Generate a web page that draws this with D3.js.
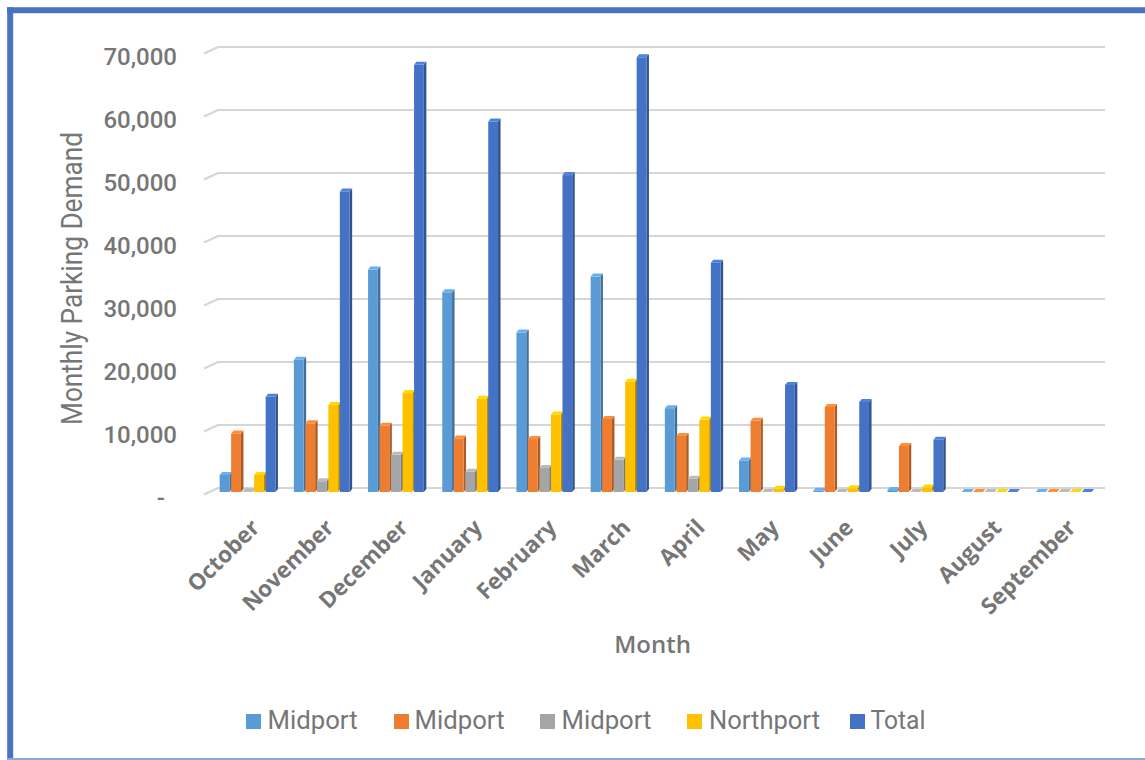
<!DOCTYPE html>
<html>
<head>
<meta charset="utf-8">
<script src="https://cdn.jsdelivr.net/npm/d3@7"></script>
<style>
  html, body { margin: 0; padding: 0; background: #ffffff; }
  svg { display: block; }
</style>
</head>
<body>
<svg id="chart" width="1145" height="760"></svg>
<script>
// Monthly parking demand by lot
const months = ["October", "November", "December", "January", "February", "March",
                "April", "May", "June", "July", "August", "September"];
const seriesNames = ["Midport", "Midport", "Midport", "Northport", "Total"];
const seriesColors = ["#5B9BD5", "#ED7D31", "#A5A5A5", "#FFC000", "#4472C4"];

const midportA  = [2700, 21000, 35300, 31700, 25300, 34200, 13300, 5000, 200, 300, 0, 0];
const midportB  = [9300, 10900, 10500, 8500, 8400, 11600, 8900, 11300, 13500, 7300, 0, 0];
const midportC  = [100, 1700, 5900, 3200, 3800, 5100, 2100, 0, 0, 0, 0, 0];
const northport = [2700, 13800, 15700, 14800, 12300, 17500, 11500, 500, 600, 700, 0, 0];
const total     = [15100, 47700, 67800, 58800, 50300, 69000, 36400, 17000, 14300, 8300, 0, 0];

const yTicks = [0, 10000, 20000, 30000, 40000, 50000, 60000, 70000];

const series = [midportA, midportB, midportC, northport, total];

const svg = d3.select("#chart");
const grey = "#767676";

// frame
svg.append("rect").attr("x", 0).attr("y", 0).attr("width", 1145).attr("height", 760).attr("fill", "#fff");
svg.append("line").attr("x1", 7).attr("x2", 1145).attr("y1", 10.3).attr("y2", 10.3)
  .attr("stroke", "#4A73BE").attr("stroke-width", 6);
svg.append("line").attr("x1", 10.2).attr("x2", 10.2).attr("y1", 7.3).attr("y2", 760)
  .attr("stroke", "#4A73BE").attr("stroke-width", 6);
svg.append("line").attr("x1", 7).attr("x2", 1145).attr("y1", 759).attr("y2", 759)
  .attr("stroke", "#8EA8D6").attr("stroke-width", 2);

// scales: back wall (gridlines) and front plane (bars)
const yBack = d3.scaleLinear().domain([0, 70000]).range([488, 47]);
const frontShift = 4;
const x0 = d3.scaleBand().domain(months).range([210.9, 210.9 + 12 * 74.2]).padding(0);
const x1 = d3.scaleBand().domain(d3.range(series.length)).range([0, 57.5]).padding(0);

// floor depth slant and gridlines
const slantDx = 14, slantDy = 6.6;
const gridLeft = 218, gridRight = 1105;
const grid = svg.append("g");
yTicks.forEach(t => {
  const y = yBack(t);
  grid.append("path")
    .attr("d", `M${gridLeft - slantDx},${y + slantDy}L${gridLeft},${y}L${gridRight},${y}`)
    .attr("fill", "none").attr("stroke", "#D6D6D6").attr("stroke-width", 2.2);
});

// y axis labels
const yLabel = d3.scaleLinear().domain([0, 70000]).range([488 + 10.3, 47 + 10.3]);
const yAxis = d3.axisLeft(yLabel).tickValues(yTicks).tickSize(0).tickPadding(0)
  .tickFormat(d => d === 0 ? "-" : d3.format(",")(d));
const yAxisG = svg.append("g").attr("transform", "translate(177,0)").call(yAxis);
yAxisG.select(".domain").remove();
yAxisG.selectAll("text")
  .attr("fill", grey).attr("font-family", "Roboto, sans-serif").attr("font-size", 24)
  .attr("font-weight", 500)
  .attr("dx", d => d === 0 ? -12 : 0);

// bars
const barW = 9.8, depthX = 2.5, depthY = 3;
const groups = svg.append("g").selectAll("g").data(months).join("g")
  .attr("transform", d => `translate(${x0(d) + x0.bandwidth() / 2 - 57.5 / 2},0)`);

groups.each(function(m, mi) {
  const g = d3.select(this);
  series.forEach((s, si) => {
    const v = s[mi];
    const col = d3.color(seriesColors[si]);
    const xl = x1(si) + 0.4;
    const yt = yBack(v) + frontShift;
    const yb = yBack(0) + frontShift;
    // side face
    g.append("path")
      .attr("d", `M${xl + barW},${yt}L${xl + barW + depthX},${yt - depthY}L${xl + barW + depthX},${yb - depthY}L${xl + barW},${yb}Z`)
      .attr("fill", col.darker(0.9));
    // front face
    g.append("rect").attr("x", xl).attr("y", yt).attr("width", barW).attr("height", Math.max(0, yb - yt))
      .attr("fill", col);
    // top face
    g.append("path")
      .attr("d", `M${xl},${yt}L${xl + depthX},${yt - depthY}L${xl + barW + depthX},${yt - depthY}L${xl + barW},${yt}Z`)
      .attr("fill", col.brighter(0.35));
  });
});

// category labels
const xAxisG = svg.append("g");
months.forEach(m => {
  const cx = x0(m) + x0.bandwidth() / 2;
  xAxisG.append("text")
    .attr("transform", `translate(${cx + 13},${529}) rotate(-45)`)
    .attr("text-anchor", "end")
    .attr("font-family", "'Open Sans', sans-serif").attr("font-weight", 700)
    .attr("font-size", 22.5).attr("fill", grey)
    .text(m);
});

// axis titles
svg.append("text")
  .attr("transform", "translate(81.7,278.5) rotate(-90)")
  .attr("text-anchor", "middle")
  .attr("font-family", "Roboto, sans-serif").attr("font-size", 29)
  .attr("textLength", 293).attr("lengthAdjust", "spacingAndGlyphs")
  .attr("fill", grey).text("Monthly Parking Demand");

svg.append("text")
  .attr("x", 652.5).attr("y", 652.7)
  .attr("text-anchor", "middle")
  .attr("font-family", "'Open Sans', sans-serif").attr("font-weight", 600)
  .attr("font-size", 24).attr("fill", grey).text("Month");

// legend
const legendSquares = [246, 394, 540, 687, 850];
const legendTextX = [267.6, 414.6, 561.5, 709, 870.5];
const legendTextW = [90, 90, 90, 111, 55];
const legend = svg.append("g");
seriesNames.forEach((name, i) => {
  legend.append("rect").attr("x", legendSquares[i]).attr("y", 714).attr("width", 15).attr("height", 15)
    .attr("fill", seriesColors[i]);
  legend.append("text").attr("x", legendTextX[i]).attr("y", 729.3)
    .attr("font-family", "Roboto, sans-serif").attr("font-size", 26)
    .attr("textLength", legendTextW[i]).attr("lengthAdjust", "spacingAndGlyphs")
    .attr("fill", grey).text(name);
});
</script>
</body>
</html>
